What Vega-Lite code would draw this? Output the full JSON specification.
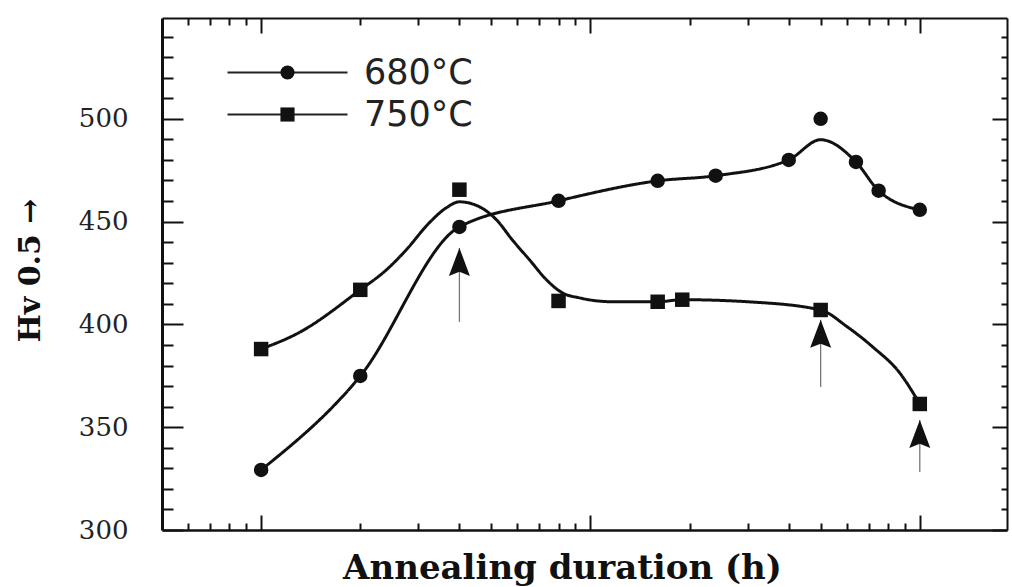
{
  "$schema": "https://vega.github.io/schema/vega-lite/v6.json",
  "width": 845,
  "height": 512,
  "autosize": {"type": "none"},
  "padding": {"left": 162, "top": 18, "right": 5, "bottom": 57},
  "background": "white",
  "config": {"view": {"stroke": null}, "axis": {"grid": false, "domainColor": "#111", "tickColor": "#111"}},
  "datasets": {
    "markers": [
      {"series": "680°C", "t": 1, "hv": 329.2},
      {"series": "680°C", "t": 2, "hv": 374.9},
      {"series": "680°C", "t": 4, "hv": 447.4},
      {"series": "680°C", "t": 8, "hv": 460.1},
      {"series": "680°C", "t": 16, "hv": 469.8},
      {"series": "680°C", "t": 24, "hv": 472.3},
      {"series": "680°C", "t": 40, "hv": 480},
      {"series": "680°C", "t": 50, "hv": 500},
      {"series": "680°C", "t": 64, "hv": 479},
      {"series": "680°C", "t": 75, "hv": 465},
      {"series": "680°C", "t": 100, "hv": 455.7},
      {"series": "750°C", "t": 1, "hv": 388},
      {"series": "750°C", "t": 2, "hv": 416.8},
      {"series": "750°C", "t": 4, "hv": 465.5},
      {"series": "750°C", "t": 8, "hv": 411.4},
      {"series": "750°C", "t": 16, "hv": 411},
      {"series": "750°C", "t": 19, "hv": 412},
      {"series": "750°C", "t": 50, "hv": 407},
      {"series": "750°C", "t": 100, "hv": 361.3}
    ],
    "curves": [
      {"series": "680°C", "t": 1, "hv": 329.2},
      {"series": "680°C", "t": 2, "hv": 374.9},
      {"series": "680°C", "t": 4, "hv": 447.4},
      {"series": "680°C", "t": 8, "hv": 460.1},
      {"series": "680°C", "t": 16, "hv": 469.8},
      {"series": "680°C", "t": 24, "hv": 472.3},
      {"series": "680°C", "t": 40, "hv": 480},
      {"series": "680°C", "t": 50, "hv": 489.8},
      {"series": "680°C", "t": 64, "hv": 479},
      {"series": "680°C", "t": 75, "hv": 465},
      {"series": "680°C", "t": 100, "hv": 455.7},
      {"series": "750°C", "t": 1, "hv": 388},
      {"series": "750°C", "t": 1.3, "hv": 395.9},
      {"series": "750°C", "t": 2, "hv": 416.8},
      {"series": "750°C", "t": 2.4, "hv": 426.5},
      {"series": "750°C", "t": 2.76, "hv": 436.3},
      {"series": "750°C", "t": 3.24, "hv": 449.4},
      {"series": "750°C", "t": 3.65, "hv": 456.7},
      {"series": "750°C", "t": 4, "hv": 459.6},
      {"series": "750°C", "t": 4.6, "hv": 457.2},
      {"series": "750°C", "t": 5.18, "hv": 450.9},
      {"series": "750°C", "t": 5.79, "hv": 441.1},
      {"series": "750°C", "t": 6.53, "hv": 431.4},
      {"series": "750°C", "t": 7.35, "hv": 421.7},
      {"series": "750°C", "t": 8.22, "hv": 415.3},
      {"series": "750°C", "t": 9.26, "hv": 412.9},
      {"series": "750°C", "t": 11.67, "hv": 411},
      {"series": "750°C", "t": 16, "hv": 411},
      {"series": "750°C", "t": 19, "hv": 412},
      {"series": "750°C", "t": 30, "hv": 411},
      {"series": "750°C", "t": 50, "hv": 407},
      {"series": "750°C", "t": 60, "hv": 399},
      {"series": "750°C", "t": 72, "hv": 389},
      {"series": "750°C", "t": 86.9, "hv": 376.4},
      {"series": "750°C", "t": 100, "hv": 361.3}
    ],
    "arrows": [
      {"t": 4, "lo": 401.2, "hi": 437.2},
      {"t": 50, "lo": 369.6, "hi": 402.2},
      {"t": 100, "lo": 328.2, "hi": 353.5}
    ]
  },
  "layer": [
    {
      "data": {"name": "curves"},
      "mark": {"type": "line", "interpolate": "monotone", "color": "#111", "strokeWidth": 3},
      "encoding": {
        "strokeDash": {
          "field": "series", "type": "nominal",
          "scale": {"range": [[1, 0], [1, 0]]},
          "legend": {
            "title": null,
            "orient": "none",
            "legendX": 108,
            "legendY": 37,
            "padding": 0,
            "labelFont": "DejaVu Sans",
            "labelFontSize": 35,
            "labelExpr": "''",
            "rowPadding": 6,
            "symbolType": "M-8,0H8",
            "symbolSize": 225,
            "symbolStrokeWidth": 2,
            "symbolStrokeColor": "#222"
          }
        },
        "x": {
          "field": "t", "type": "quantitative",
          "scale": {"type": "log", "domain": [0.5, 184], "nice": false},
          "axis": {
            "orient": "bottom",
            "values": [1, 10, 100],
            "labels": false,
            "tickSize": -15,
            "tickWidth": 2,
            "domainWidth": 2.5,
            "title": "Annealing duration (h)",
            "titleFont": "DejaVu Serif",
            "titleFontWeight": "bold",
            "titleFontSize": 34,
            "titleColor": "#111",
            "titleAlign": "center",
            "titleBaseline": "alphabetic",
            "titleX": 400,
            "titleY": 48
          }
        },
        "y": {
          "field": "hv", "type": "quantitative",
          "scale": {"domain": [300, 549], "nice": false, "zero": false},
          "axis": {
            "orient": "left",
            "values": [300, 350, 400, 450, 500],
            "tickSize": -21,
            "tickWidth": 2,
            "domainWidth": 3,
            "labelFont": "DejaVu Serif",
            "labelFontSize": 26,
            "labelColor": "#222",
            "labelPadding": 55,
            "title": "Hv 0.5 →",
            "titleFont": "DejaVu Serif",
            "titleFontWeight": "bold",
            "titleFontSize": 30,
            "titleColor": "#111",
            "titleAlign": "center",
            "titleBaseline": "alphabetic",
            "titleAngle": -90,
            "titleX": -123,
            "titleY": 252
          }
        }
      }
    },
    {
      "data": {"name": "markers"},
      "mark": {"type": "point", "filled": true, "color": "#111", "opacity": 1, "size": 210},
      "encoding": {
        "x": {
          "field": "t", "type": "quantitative",
          "scale": {"type": "log", "domain": [0.5, 184], "nice": false},
          "axis": {
            "orient": "top",
            "values": [1, 10, 100],
            "labels": false,
            "tickSize": -15,
            "tickWidth": 2,
            "domainWidth": 2,
            "title": null
          }
        },
        "y": {
          "field": "hv", "type": "quantitative",
          "scale": {"domain": [300, 549], "nice": false, "zero": false},
          "axis": {
            "orient": "right",
            "values": [300, 350, 400, 450, 500],
            "labels": false,
            "tickSize": -15,
            "tickWidth": 2,
            "domainWidth": 2,
            "title": null
          }
        },
        "shape": {
          "field": "series", "type": "nominal",
          "scale": {"domain": ["680°C", "750°C"], "range": ["circle", "square"]},
          "legend": {
            "title": null,
            "orient": "none",
            "legendX": 108,
            "legendY": 37,
            "padding": 0,
            "labelFont": "DejaVu Sans",
            "labelFontSize": 35,
            "labelColor": "#222",
            "labelOffset": 59,
            "rowPadding": 6,
            "symbolSize": 200,
            "symbolFillColor": "#111",
            "symbolOpacity": 1
          }
        }
      }
    },
    {
      "data": {"name": "arrows"},
      "mark": {"type": "rule", "color": "#777", "strokeWidth": 1.3},
      "encoding": {
        "x": {
          "field": "t", "type": "quantitative",
          "scale": {"type": "log", "domain": [0.5, 184], "nice": false},
          "axis": {
            "orient": "bottom",
            "values": [0.6, 0.7, 0.8, 0.9, 2, 3, 4, 5, 6, 7, 8, 9, 20, 30, 40, 50, 60, 70, 80, 90],
            "labels": false,
            "domain": false,
            "tickSize": -7,
            "tickWidth": 2,
            "title": null
          }
        },
        "y": {
          "field": "lo", "type": "quantitative",
          "scale": {"domain": [300, 549], "nice": false, "zero": false},
          "axis": {
            "orient": "left",
            "values": [310, 320, 330, 340, 360, 370, 380, 390, 410, 420, 430, 440, 460, 470, 480, 490, 510, 520, 530, 540],
            "labels": false,
            "domain": false,
            "tickSize": -11,
            "tickWidth": 2,
            "title": null
          }
        },
        "y2": {"field": "hi"}
      }
    },
    {
      "data": {"name": "arrows"},
      "mark": {"type": "point", "filled": true, "color": "#111", "opacity": 1, "size": 784, "shape": "M0,0L0.75,2L0,1.7L-0.75,2Z"},
      "encoding": {
        "x": {
          "field": "t", "type": "quantitative",
          "scale": {"type": "log", "domain": [0.5, 184], "nice": false},
          "axis": {
            "orient": "top",
            "values": [0.6, 0.7, 0.8, 0.9, 2, 3, 4, 5, 6, 7, 8, 9, 20, 30, 40, 50, 60, 70, 80, 90],
            "labels": false,
            "domain": false,
            "tickSize": -7,
            "tickWidth": 2,
            "title": null
          }
        },
        "y": {
          "field": "hi", "type": "quantitative",
          "scale": {"domain": [300, 549], "nice": false, "zero": false},
          "axis": {
            "orient": "right",
            "values": [310, 320, 330, 340, 360, 370, 380, 390, 410, 420, 430, 440, 460, 470, 480, 490, 510, 520, 530, 540],
            "labels": false,
            "domain": false,
            "tickSize": -6,
            "tickWidth": 2,
            "title": null
          }
        }
      }
    }
  ],
  "resolve": {
    "axis": {"x": "independent", "y": "independent"}
  }
}
